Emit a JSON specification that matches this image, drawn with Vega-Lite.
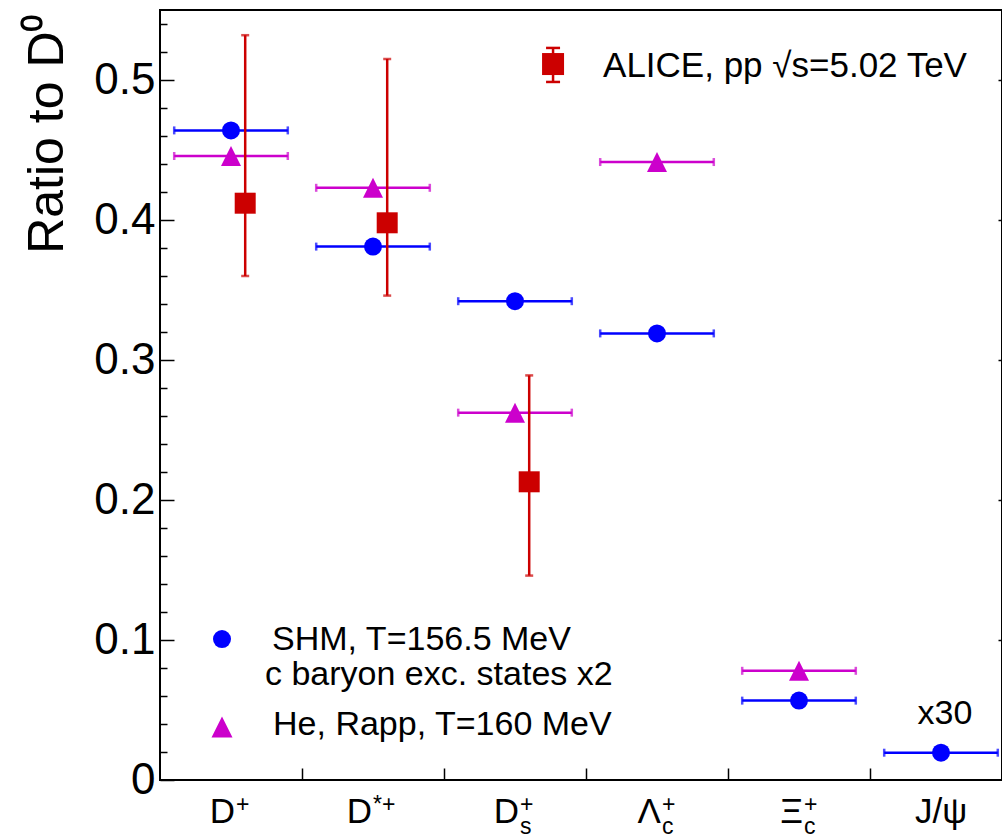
{
  "$schema": "https://vega.github.io/schema/vega-lite/v6.json",
  "width": 842,
  "height": 770,
  "autosize": {"type": "none"},
  "padding": {"left": 160, "top": 10, "right": 0, "bottom": 57},
  "background": "#ffffff",
  "config": {
    "view": {"stroke": "#000000", "strokeWidth": 2},
    "font": "Liberation Sans",
    "text": {"font": "Liberation Sans", "color": "#000000"},
    "axis": {"labelOverlap": false, "labelBound": false, "labelFlush": false}
  },
  "datasets": {
    "models": [
      {"series": "SHM", "particle": "D+", "pos": 0.5, "val": 0.464, "lo": 0.1, "hi": 0.9},
      {"series": "SHM", "particle": "D*+", "pos": 1.5, "val": 0.381, "lo": 1.1, "hi": 1.9},
      {"series": "SHM", "particle": "Ds+", "pos": 2.5, "val": 0.342, "lo": 2.1, "hi": 2.9},
      {"series": "SHM", "particle": "Lc+", "pos": 3.5, "val": 0.319, "lo": 3.1, "hi": 3.9},
      {"series": "SHM", "particle": "Xic+", "pos": 4.5, "val": 0.0567, "lo": 4.1, "hi": 4.9},
      {"series": "SHM", "particle": "J/psi", "pos": 5.5, "val": 0.0195, "lo": 5.1, "hi": 5.9},
      {"series": "He", "particle": "D+", "pos": 0.5, "val": 0.4457, "lo": 0.1, "hi": 0.9},
      {"series": "He", "particle": "D*+", "pos": 1.5, "val": 0.423, "lo": 1.1, "hi": 1.9},
      {"series": "He", "particle": "Ds+", "pos": 2.5, "val": 0.2624, "lo": 2.1, "hi": 2.9},
      {"series": "He", "particle": "Lc+", "pos": 3.5, "val": 0.4414, "lo": 3.1, "hi": 3.9},
      {"series": "He", "particle": "Xic+", "pos": 4.5, "val": 0.078, "lo": 4.1, "hi": 4.9}
    ],
    "alice": [
      {"particle": "D+", "pos": 0.6, "val": 0.412, "lo": 0.36, "hi": 0.532},
      {"particle": "D*+", "pos": 1.6, "val": 0.398, "lo": 0.346, "hi": 0.515},
      {"particle": "Ds+", "pos": 2.6, "val": 0.213, "lo": 0.146, "hi": 0.289}
    ],
    "cats": [
      {"pos": 0.5, "base": "D", "sup": "+", "sub": ""},
      {"pos": 1.5, "base": "D", "sup": "*+", "sub": ""},
      {"pos": 2.5, "base": "D", "sup": "+", "sub": "s"},
      {"pos": 3.5, "base": "Λ", "sup": "+", "sub": "c"},
      {"pos": 4.5, "base": "Ξ", "sup": "+", "sub": "c"},
      {"pos": 5.5, "base": "J/ψ", "sup": "", "sub": ""}
    ],
    "one": [{}]
  },
  "layer": [
    {
      "layer": [
        {
          "data": {"name": "models"},
          "transform": [{"filter": "datum.series == 'SHM'"}],
          "mark": {"type": "errorbar", "color": "#0000ff", "rule": {"strokeWidth": 2.5}, "ticks": {"size": 8, "thickness": 2.5}},
          "encoding": {
            "x": {
              "field": "lo", "type": "quantitative", "title": null,
              "scale": {"domain": [0, 5.9296], "nice": false, "zero": false},
              "axis": {"values": [1, 2, 3, 4, 5], "tickCount": 100, "labels": false, "tickSize": -12, "tickColor": "#000000", "tickWidth": 1.5, "domain": false, "grid": false, "title": null}
            },
            "x2": {"field": "hi"},
            "y": {
              "field": "val", "type": "quantitative", "title": "Ratio to D⁰",
              "scale": {"domain": [0, 0.55], "nice": false, "zero": false},
              "axis": {
                "values": [0, 0.02, 0.04, 0.06, 0.08, 0.1, 0.12, 0.14, 0.16, 0.18, 0.2, 0.22, 0.24, 0.26, 0.28, 0.3, 0.32, 0.34, 0.36, 0.38, 0.4, 0.42, 0.44, 0.46, 0.48, 0.5, 0.52, 0.54],
                "tickCount": 100,
                "format": ".1~f",
                "labelExpr": "abs(datum.value*10 - round(datum.value*10)) < 0.01 ? format(datum.value, '.1~f') : ''",
                "labelOverlap": false,
                "tickSize": {"condition": {"test": "abs(datum.value*10 - round(datum.value*10)) < 0.01", "value": -14}, "value": -7},
                "tickColor": "#000000",
                "tickWidth": 1.5,
                "labelFontSize": 44,
                "labelFont": "Liberation Sans",
                "labelColor": "#000000",
                "labelPadding": 19,
                "labelBaseline": "middle",
                "domain": false,
                "grid": false,
                "title": "Ratio to D⁰",
                "titleFont": "Liberation Sans",
                "titleFontSize": 50,
                "titleFontWeight": "normal",
                "titleColor": "#000000",
                "titleAngle": -90,
                "titleAlign": "right",
                "titleBaseline": "alphabetic",
                "titleX": -98,
                "titleY": 3
              }
            }
          }
        },
        {
          "data": {"name": "models"},
          "transform": [{"filter": "datum.series == 'He'"}],
          "mark": {"type": "errorbar", "color": "#cc00cc", "rule": {"strokeWidth": 2.5}, "ticks": {"size": 8, "thickness": 2.5}},
          "encoding": {
            "x": {"field": "lo", "type": "quantitative", "title": null},
            "x2": {"field": "hi"},
            "y": {"field": "val", "type": "quantitative", "title": "Ratio to D⁰"}
          }
        },
        {
          "data": {"name": "models"},
          "transform": [{"filter": "datum.series == 'SHM'"}],
          "mark": {"type": "point", "shape": "circle", "filled": true, "size": 324, "color": "#0000ff", "opacity": 1},
          "encoding": {
            "x": {"field": "pos", "type": "quantitative", "title": null},
            "y": {"field": "val", "type": "quantitative", "title": "Ratio to D⁰"}
          }
        },
        {
          "data": {"name": "models"},
          "transform": [{"filter": "datum.series == 'He'"}],
          "mark": {"type": "point", "shape": "M0,-1L-1,1L1,1Z", "filled": true, "size": 400, "color": "#cc00cc", "opacity": 1},
          "encoding": {
            "x": {"field": "pos", "type": "quantitative", "title": null},
            "y": {"field": "val", "type": "quantitative", "title": "Ratio to D⁰"}
          }
        },
        {
          "data": {"name": "alice"},
          "mark": {"type": "errorbar", "color": "#cc0000", "rule": {"strokeWidth": 2.5}, "ticks": {"size": 8, "thickness": 2.5}},
          "encoding": {
            "x": {"field": "pos", "type": "quantitative", "title": null},
            "y": {"field": "lo", "type": "quantitative", "title": "Ratio to D⁰"},
            "y2": {"field": "hi"}
          }
        },
        {
          "data": {"name": "alice"},
          "mark": {"type": "point", "shape": "square", "filled": true, "size": 441, "color": "#cc0000", "opacity": 1},
          "encoding": {
            "x": {"field": "pos", "type": "quantitative", "title": null},
            "y": {"field": "val", "type": "quantitative", "title": "Ratio to D⁰"}
          }
        },
        {
          "data": {"name": "cats"},
          "transform": [{"filter": "datum.sup != ''"}],
          "mark": {"type": "text", "align": "right", "baseline": "alphabetic", "fontSize": 35, "dy": 43, "dx": {"expr": "datum.sup == '*+' ? -1 : 4"}},
          "encoding": {
            "x": {"field": "pos", "type": "quantitative", "title": null},
            "y": {"datum": 0},
            "text": {"field": "base"}
          }
        },
        {
          "data": {"name": "cats"},
          "transform": [{"filter": "datum.sup == ''"}],
          "mark": {"type": "text", "align": "center", "baseline": "alphabetic", "fontSize": 35, "dy": 43},
          "encoding": {
            "x": {"field": "pos", "type": "quantitative", "title": null},
            "y": {"datum": 0},
            "text": {"field": "base"}
          }
        },
        {
          "data": {"name": "cats"},
          "transform": [{"filter": "datum.sup != ''"}],
          "mark": {"type": "text", "align": "left", "baseline": "alphabetic", "fontSize": 23, "dy": 32, "dx": {"expr": "datum.sup == '*+' ? 0 : 5"}},
          "encoding": {
            "x": {"field": "pos", "type": "quantitative", "title": null},
            "y": {"datum": 0},
            "text": {"field": "sup"}
          }
        },
        {
          "data": {"name": "cats"},
          "transform": [{"filter": "datum.sub != ''"}],
          "mark": {"type": "text", "align": "left", "baseline": "alphabetic", "fontSize": 23, "dy": 54, "dx": 5},
          "encoding": {
            "x": {"field": "pos", "type": "quantitative", "title": null},
            "y": {"datum": 0},
            "text": {"field": "sub"}
          }
        },
        {
          "data": {"name": "one"},
          "mark": {"type": "rule", "color": "#cc0000", "strokeWidth": 2.5},
          "encoding": {"x": {"datum": 2.768}, "y": {"datum": 0.4986}, "y2": {"datum": 0.5229}}
        },
        {
          "data": {"name": "one"},
          "mark": {"type": "tick", "orient": "horizontal", "color": "#cc0000", "size": 14, "thickness": 2.5, "opacity": 1},
          "encoding": {"x": {"datum": 2.768}, "y": {"datum": 0.4986}}
        },
        {
          "data": {"name": "one"},
          "mark": {"type": "tick", "orient": "horizontal", "color": "#cc0000", "size": 14, "thickness": 2.5, "opacity": 1},
          "encoding": {"x": {"datum": 2.768}, "y": {"datum": 0.5229}}
        },
        {
          "data": {"name": "one"},
          "mark": {"type": "point", "shape": "square", "filled": true, "size": 484, "color": "#cc0000", "opacity": 1},
          "encoding": {"x": {"datum": 2.768}, "y": {"datum": 0.5114}}
        },
        {
          "data": {"name": "one"},
          "mark": {"type": "text", "text": "ALICE, pp  √s=5.02 TeV", "align": "left", "baseline": "alphabetic", "fontSize": 35},
          "encoding": {"x": {"datum": 3.12}, "y": {"datum": 0.5021}}
        },
        {
          "data": {"name": "one"},
          "mark": {"type": "point", "shape": "circle", "filled": true, "size": 324, "color": "#0000ff", "opacity": 1},
          "encoding": {"x": {"datum": 0.4366}, "y": {"datum": 0.1007}}
        },
        {
          "data": {"name": "one"},
          "mark": {"type": "text", "text": "SHM, T=156.5 MeV", "align": "left", "baseline": "alphabetic", "fontSize": 34},
          "encoding": {"x": {"datum": 0.789}, "y": {"datum": 0.0929}}
        },
        {
          "data": {"name": "one"},
          "mark": {"type": "text", "text": "c baryon exc. states x2", "align": "left", "baseline": "alphabetic", "fontSize": 34},
          "encoding": {"x": {"datum": 0.739}, "y": {"datum": 0.0679}}
        },
        {
          "data": {"name": "one"},
          "mark": {"type": "point", "shape": "M0,-1L-1,1L1,1Z", "filled": true, "size": 441, "color": "#cc00cc", "opacity": 1},
          "encoding": {"x": {"datum": 0.4366}, "y": {"datum": 0.0379}}
        },
        {
          "data": {"name": "one"},
          "mark": {"type": "text", "text": "He, Rapp, T=160 MeV", "align": "left", "baseline": "alphabetic", "fontSize": 34},
          "encoding": {"x": {"datum": 0.796}, "y": {"datum": 0.0321}}
        },
        {
          "data": {"name": "one"},
          "mark": {"type": "text", "text": "x30", "align": "center", "baseline": "alphabetic", "fontSize": 34},
          "encoding": {"x": {"datum": 5.528}, "y": {"datum": 0.04}}
        }
      ]
    },
    {
      "data": {"name": "models"},
      "mark": {"type": "point", "opacity": 0},
      "encoding": {
        "x": {"field": "pos", "type": "quantitative", "title": null},
        "y": {
          "field": "val", "type": "quantitative",
          "axis": {"orient": "right", "values": [0.1, 0.2, 0.3, 0.4, 0.5], "labels": false, "tickSize": -4, "tickColor": "#000000", "tickWidth": 1.5, "domain": false, "grid": false, "title": null}
        }
      }
    }
  ],
  "resolve": {"axis": {"y": "independent"}}
}
